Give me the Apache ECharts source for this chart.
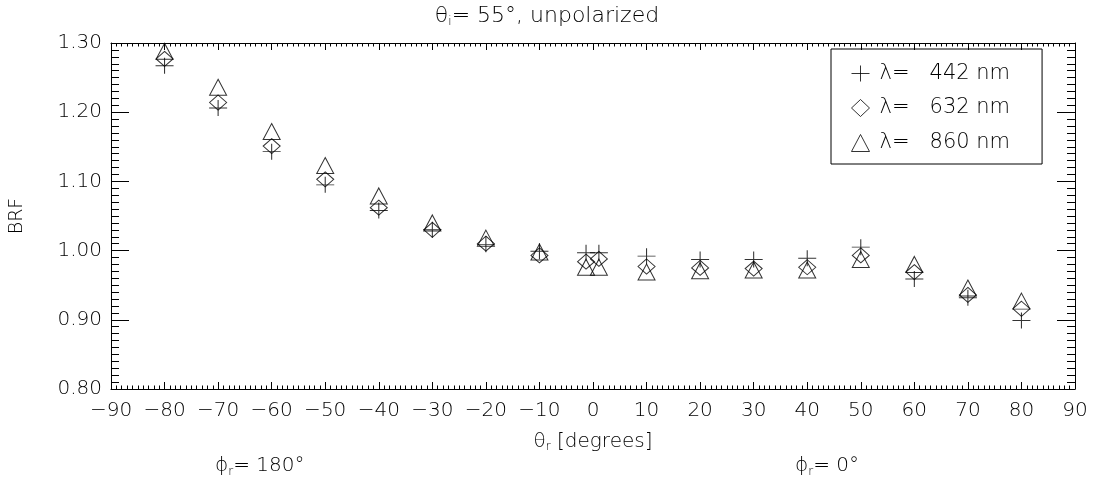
<!DOCTYPE html>
<html>
<head>
<meta charset="utf-8">
<script src="https://cdn.jsdelivr.net/npm/echarts@6/dist/echarts.min.js"></script>
<style>
  html, body { margin: 0; padding: 0; background: #fff; }
  #main { width: 1094px; height: 487px; }
</style>
</head>
<body>
<div id="main"></div>
<script>
// theta_r positions (two points near 0: phi_r = 180 side and phi_r = 0 side)
const thetaR = [-80, -70, -60, -50, -40, -30, -20, -10, -1.3, 1.1, 10, 20, 30, 40, 50, 60, 70, 80];

// BRF per wavelength
const brf442 = [1.267, 1.206, 1.143, 1.095, 1.058, 1.030, 1.009, 0.999, 0.997, 0.997, 0.992, 0.987, 0.987, 0.989, 1.005, 0.959, 0.932, 0.899];
const brf632 = [1.277, 1.214, 1.151, 1.103, 1.062, 1.030, 1.010, 0.993, 0.984, 0.988, 0.977, 0.975, 0.974, 0.976, 0.993, 0.969, 0.936, 0.916];
const brf860 = [1.288, 1.236, 1.172, 1.123, 1.079, 1.040, 1.018, 0.998, 0.976, 0.976, 0.969, 0.971, 0.972, 0.972, 0.987, 0.980, 0.946, 0.927];

const seriesNames = ['λ=   442 nm', 'λ=   632 nm', 'λ=   860 nm'];

const FONT = 'DejaVu Sans';
const W = 200; // thin strokes like the vector font

const pair = (ys) => thetaR.map((x, i) => [x, ys[i]]);

const markStyle = {
    color: 'none',
    borderColor: '#000',
    borderWidth: 1
};

const xTicks = {
    axisLine: { show: true, onZero: false, lineStyle: { color: '#000', width: 1 } },
    axisTick: { show: true, inside: true, length: 7, lineStyle: { color: '#000' } },
    minorTick: { show: true, splitNumber: 10, length: 3.5, lineStyle: { color: '#000' } },
    splitLine: { show: false }
};
const yTicks = {
    axisLine: { show: true, onZero: false, lineStyle: { color: '#000', width: 1 } },
    axisTick: { show: true, inside: true, length: 18, lineStyle: { color: '#000' } },
    minorTick: { show: true, splitNumber: 10, length: 8, lineStyle: { color: '#000' } },
    splitLine: { show: false }
};

const subRich = (size, subSize, fill) => {
    const c = fill ? { fill: '#000' } : { color: '#000' };
    return {
        g: Object.assign({ fontFamily: FONT, fontSize: size, fontWeight: W }, c),
        sub: Object.assign({ fontFamily: FONT, fontSize: subSize, fontWeight: W, padding: [11, 0, 0, 0] }, c),
        t: Object.assign({ fontFamily: FONT, fontSize: size, fontWeight: W }, c)
    };
};

const chart = echarts.init(document.getElementById('main'));

chart.setOption({
    animation: false,
    backgroundColor: '#fff',
    textStyle: { fontFamily: FONT, color: '#000', fontWeight: W },
    title: {
        text: '{g|θ}{sub|i}{t|= 55°, unpolarized}',
        left: 'center',
        top: 0,
        textStyle: { fontWeight: W, rich: subRich(22, 12, false) }
    },
    grid: { left: 110, right: 19, top: 43, bottom: 98 },
    legend: {
        orient: 'vertical',
        left: 831,
        top: 49,
        padding: [14, 32, 10, 18],
        itemGap: 13,
        itemWidth: 18,
        itemHeight: 17,
        borderColor: '#000',
        borderWidth: 1,
        itemStyle: { color: 'none', borderColor: '#000', borderWidth: 1 },
        textStyle: { fontFamily: FONT, fontSize: 21, fontWeight: W, color: '#000', padding: [0, 0, 0, 5] },
        data: seriesNames
    },
    xAxis: [
        Object.assign({
            type: 'value', min: -90, max: 90, interval: 10, position: 'bottom',
            axisLabel: {
                fontFamily: FONT, fontSize: 20, fontWeight: W, color: '#000', margin: 12,
                formatter: (v) => (v < 0 ? '\u2212' + Math.abs(v) : String(v))
            },
            name: '{g|θ}{sub|r}{t| [degrees]}',
            nameLocation: 'middle',
            nameGap: 41,
            nameTextStyle: { fontWeight: W, rich: subRich(20, 12, false) }
        }, xTicks),
        Object.assign({
            type: 'value', min: -90, max: 90, interval: 10, position: 'top',
            axisLabel: { show: false }
        }, xTicks)
    ],
    yAxis: [
        Object.assign({
            type: 'value', min: 0.8, max: 1.3, interval: 0.1, position: 'left',
            axisLabel: {
                fontFamily: FONT, fontSize: 20, fontWeight: W, color: '#000', margin: 9,
                formatter: (v) => v.toFixed(2)
            },
            name: 'BRF',
            nameLocation: 'middle',
            nameGap: 84,
            nameTextStyle: { fontFamily: FONT, fontSize: 19, fontWeight: W, color: '#000' }
        }, yTicks),
        Object.assign({
            type: 'value', min: 0.8, max: 1.3, interval: 0.1, position: 'right',
            axisLabel: { show: false }
        }, yTicks)
    ],
    graphic: [
        {
            type: 'text', left: 215, top: 456,
            style: { text: '{g|ϕ}{sub|r}{t|= 180°}', rich: subRich(20, 12, true) }
        },
        {
            type: 'text', left: 795, top: 456,
            style: { text: '{g|ϕ}{sub|r}{t|= 0°}', rich: subRich(20, 12, true) }
        }
    ],
    series: [
        {
            name: seriesNames[0], type: 'scatter',
            symbol: 'path://M9,0L9,16M0,8L18,8', symbolSize: [18, 16],
            itemStyle: markStyle, data: pair(brf442)
        },
        {
            name: seriesNames[1], type: 'scatter',
            symbol: 'diamond', symbolSize: [17, 15],
            itemStyle: markStyle, data: pair(brf632)
        },
        {
            name: seriesNames[2], type: 'scatter',
            symbol: 'triangle', symbolSize: [17, 16],
            itemStyle: markStyle, data: pair(brf860)
        }
    ]
});
</script>
</body>
</html>
